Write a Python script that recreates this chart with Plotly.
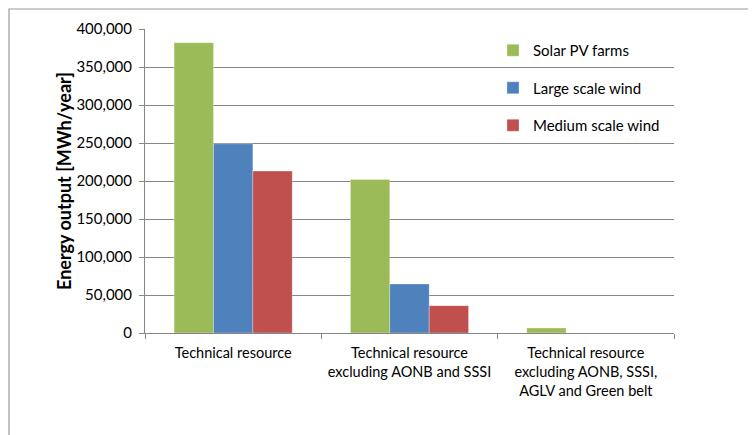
import plotly.graph_objects as go

categories = [
    "Technical resource",
    "Technical resource<br>excluding AONB and SSSI",
    "Technical resource<br>excluding AONB, SSSI,<br>AGLV and Green belt",
]
series_names = ["Solar PV farms", "Large scale wind", "Medium scale wind"]
solar_pv = [382000, 202000, 6500]
large_wind = [249000, 64500, 0]
medium_wind = [213000, 36000, 0]
colors = ["#9BBB59", "#4F81BD", "#C0504D"]
y_ticks = [0, 50000, 100000, 150000, 200000, 250000, 300000, 350000, 400000]

# page has an 8px body margin; figure coords are page coords minus 8
W, H = 756, 435
ML, MR, MT, MB = 137, 90, 21, 110
pw, ph = W - ML - MR, H - MT - MB

fig = go.Figure()
for i, (name, vals) in enumerate(zip(series_names, [solar_pv, large_wind, medium_wind])):
    fig.add_trace(go.Bar(
        x=categories, y=vals, name=name, legendgroup=f"g{i}",
        marker=dict(color=colors[i], line=dict(width=0.6, color="rgba(255,255,255,0.5)")),
    ))

font = "Lato, 'Open Sans', sans-serif"
fig.update_layout(
    width=W, height=H,
    margin=dict(l=ML, r=MR, t=MT, b=MB),
    paper_bgcolor="white", plot_bgcolor="white",
    barmode="group", bargap=0.33, bargroupgap=0,
    font=dict(family=font, size=14, color="#000000"),
    showlegend=True,
    legend=dict(
        x=(485 - ML) / pw, xanchor="left",
        y=1 + (MT - 26) / ph, yanchor="top",
        bgcolor="rgba(0,0,0,0)",
        font=dict(size=15, family=font),
        tracegroupgap=15, traceorder="grouped",
        itemwidth=30,
    ),
    xaxis=dict(
        type="category", showgrid=False,
        showline=True, linecolor="#868686", linewidth=1,
        ticks="outside", ticklen=5, tickcolor="#868686", tickson="boundaries",
        ticklabelstandoff=7,
        tickfont=dict(size=14.5, family=font),
    ),
    yaxis=dict(
        range=[0, 400000], tickvals=y_ticks, tickformat=",",
        showgrid=True, gridcolor="#868686", gridwidth=1,
        showline=True, linecolor="#868686", linewidth=1,
        ticks="outside", ticklen=5, tickcolor="#868686",
        ticklabelstandoff=4,
        tickfont=dict(size=15, family=font),
        zeroline=False,
        title=dict(text="<b>Energy output [MWh/year]</b>", standoff=0,
                   font=dict(size=18, family=font)),
    ),
    shapes=[dict(
        type="rect", xref="paper", yref="paper",
        x0=(1 - ML) / pw, x1=1.5,
        y0=-0.6, y1=1 + (MT - 1) / ph,
        line=dict(color="#9a9a9a", width=1.2), fillcolor="rgba(0,0,0,0)", layer="below",
    )],
)

fig.write_html("out.html")
